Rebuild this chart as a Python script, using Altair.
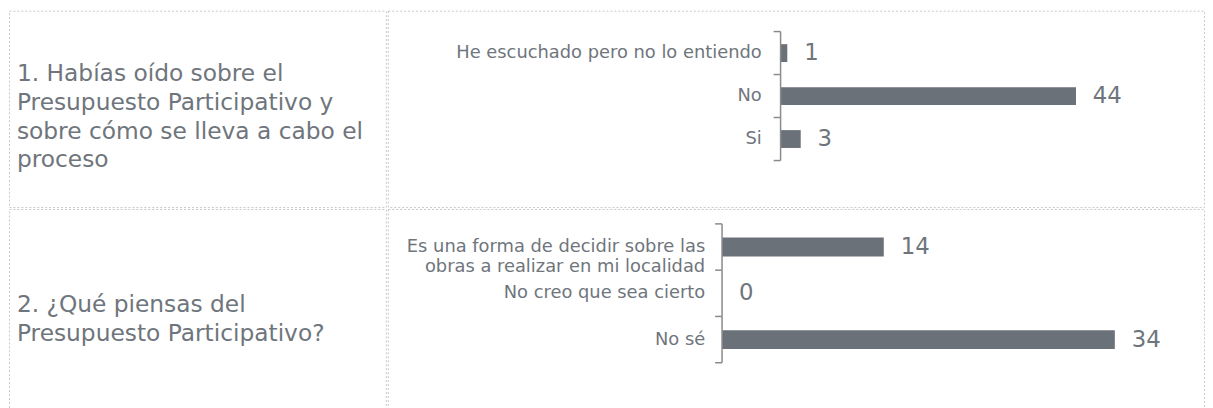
import altair as alt
import pandas as pd

# ---- data ----
q1_text = "1. Habías oído sobre el\nPresupuesto Participativo y\nsobre cómo se lleva a cabo el\nproceso"
q1_cats = ["He escuchado pero no lo entiendo", "No", "Si"]
q1_vals = [1, 44, 3]

q2_text = "2. ¿Qué piensas del\nPresupuesto Participativo?"
q2_cats = ["Es una forma de decidir sobre las|obras a realizar en mi localidad",
           "No creo que sea cierto", "No sé"]
q2_vals = [14, 0, 34]

FONT = "DejaVu Sans"
TXT = "#6f757c"
BAR = "#6b7178"
AXIS = "#8a8a8a"

LEFT_W = 380
RIGHT_W = 823


def text_panel(text, h, yfirst):
    df = pd.DataFrame({"t": [text]})
    return alt.Chart(df).mark_text(
        align="left", baseline="middle", lineBreak="\n", font=FONT,
        fontSize=23.5, lineHeight=29, color=TXT
    ).encode(
        x=alt.value(8), y=alt.value(yfirst), text="t:N"
    ).properties(width=LEFT_W, height=h)


def bar_panel(cats, vals, h, xdom, pad_outer, align, size, lab_gap, step):
    df = pd.DataFrame({"cat": cats, "val": vals, "zero": [0] * len(cats),
                      "last": [c == cats[-1] for c in cats]})
    y = alt.Y("cat:N", sort=cats, title=None, axis=None,
              scale=alt.Scale(paddingInner=0, paddingOuter=pad_outer, align=align))
    xscale = alt.Scale(domain=xdom, nice=False, zero=False)
    x = alt.X("val:Q", title=None, axis=None, scale=xscale)
    x0 = alt.X("zero:Q", title=None, axis=None, scale=xscale)
    base = alt.Chart(df).encode(y=y)
    bars = base.mark_bar(size=size, color=BAR).encode(x=x)
    values = base.mark_text(align="left", baseline="middle", dx=17, font=FONT,
                            fontSize=23, color=TXT).encode(x=x, text="val:Q")
    cat_labels = base.mark_text(align="right", baseline="middle", dx=-lab_gap,
                                font=FONT, fontSize=18, lineHeight=20, lineBreak="|",
                                color=TXT).encode(x=x0, text="cat:N")
    spine = base.mark_tick(orient="vertical", size=step, thickness=1.5,
                           color=AXIS, opacity=1).encode(x=x0)
    ticks_top = base.mark_tick(orient="horizontal", size=7, thickness=1.5, xOffset=-3.5,
                               yOffset=-step / 2, color=AXIS, opacity=1).encode(x=x0)
    tick_end = base.mark_tick(orient="horizontal", size=7, thickness=1.5, xOffset=-3.5,
                              yOffset=step / 2, color=AXIS, opacity=1).encode(
        x=x0).transform_filter("datum.last")
    return alt.layer(bars, values, cat_labels, spine, ticks_top, tick_end).properties(
        width=RIGHT_W, height=h)


top = alt.hconcat(
    text_panel(q1_text, 198, 64),
    bar_panel(q1_cats, q1_vals, 198, [-58.5, 63.07], 0.785, 0.31, 18, 19, 43.4),
    spacing=0,
)
bottom = alt.hconcat(
    text_panel(q2_text, 210, 97),
    bar_panel(q2_cats, q2_vals, 210, [-28.93, 41.72], 0.75, 0.214, 19, 17, 46.7),
    spacing=0,
)

chart = alt.vconcat(top, bottom, spacing=0).properties(padding=0).configure_view(
    stroke="#c8c8c8", strokeDash=[2, 2], strokeWidth=1
)

chart.save("out.html", embed_options={"renderer": "svg", "actions": False})
